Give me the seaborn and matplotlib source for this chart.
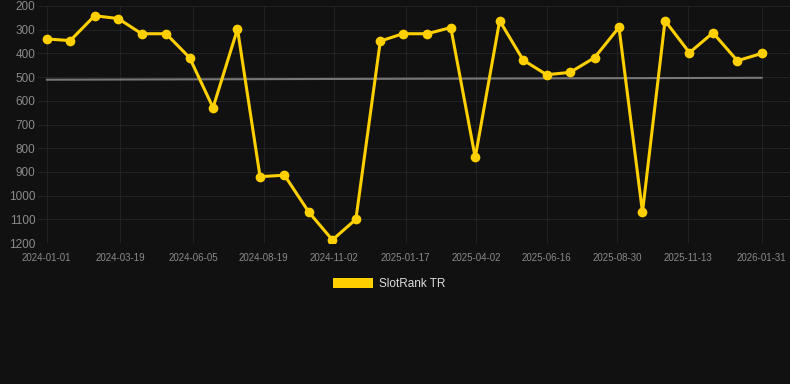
import matplotlib
matplotlib.use("Agg")
import matplotlib.pyplot as plt
from matplotlib.patches import Patch
import seaborn as sns
import pandas as pd

dates = ["2024-01-01", "2024-01-26", "2024-02-21", "2024-03-17", "2024-04-11",
         "2024-05-07", "2024-06-01", "2024-06-26", "2024-07-22", "2024-08-15",
         "2024-09-10", "2024-10-06", "2024-10-31", "2024-11-25", "2024-12-21",
         "2025-01-14", "2025-02-09", "2025-03-06", "2025-04-01", "2025-04-27",
         "2025-05-22", "2025-06-16", "2025-07-11", "2025-08-06", "2025-09-01",
         "2025-09-26", "2025-10-20", "2025-11-15", "2025-12-10", "2026-01-05",
         "2026-01-31"]
ranks = [339, 346, 241, 253, 317, 317, 418, 629, 297, 920,
         914, 1070, 1187, 1100, 348, 317, 317, 291, 839, 262,
         428, 490, 480, 418, 290, 1070, 262, 397, 313, 431,
         400]
trend_dates = ["2024-01-01", "2026-01-31"]
trend_values = [511, 503]
tick_labels = ["2024-01-01", "2024-03-19", "2024-06-05", "2024-08-19", "2024-11-02",
               "2025-01-17", "2025-04-02", "2025-06-16", "2025-08-30", "2025-11-13",
               "2026-01-31"]
y_ticks = [200, 300, 400, 500, 600, 700, 800, 900, 1000, 1100, 1200]
series_name = "SlotRank TR"

BG = "#111111"
GRID = "#222222"
GOLD = "#FFD000"

df = pd.DataFrame({"date": pd.to_datetime(dates), "rank": ranks})
tr = pd.DataFrame({"date": pd.to_datetime(trend_dates), "rank": trend_values})

sns.set_style("dark")
plt.rcParams["font.family"] = ["Liberation Sans", "DejaVu Sans"]

fig = plt.figure(figsize=(7.9, 3.84), dpi=100, facecolor=BG)
ax = fig.add_axes([38 / 790, 1 - 243 / 384, 1 - 38 / 790, (243 - 6) / 384])
ax.set_facecolor(BG)

sns.lineplot(data=tr, x="date", y="rank", ax=ax, color="#777777", linewidth=1.5,
             legend=False)
sns.lineplot(data=df, x="date", y="rank", ax=ax, color=GOLD, linewidth=2.2,
             marker="o", markersize=7, markeredgewidth=0, legend=False)

ax.set_ylim(1200, 200)
ax.set_xlim(pd.Timestamp("2024-01-01") - pd.Timedelta(days=9.3),
            pd.Timestamp("2026-01-31") + pd.Timedelta(days=30))
ax.set_yticks(y_ticks)
ax.set_yticklabels([str(v) for v in y_ticks], fontsize=8.5, color="#8a8a8a")
ax.set_xticks(pd.to_datetime(tick_labels))
ax.set_xticklabels(tick_labels, fontsize=7, color="#8a8a8a")
ax.grid(True, color=GRID, linewidth=0.8)
ax.tick_params(axis="x", length=4, color=GRID, pad=3)
ax.tick_params(axis="y", length=0, pad=2)
ax.set_xlabel("")
ax.set_ylabel("")
for s in ax.spines.values():
    s.set_visible(False)

handle = Patch(facecolor=GOLD, edgecolor="none")
leg = fig.legend([handle], [series_name], loc="center", bbox_to_anchor=(389 / 790, 1 - 284 / 384),
                 frameon=False, fontsize=8.5, handlelength=3.4, handleheight=1.0,
                 handletextpad=0.5, labelcolor="#dddddd")

fig.savefig("out.png", dpi=100, facecolor=BG)
